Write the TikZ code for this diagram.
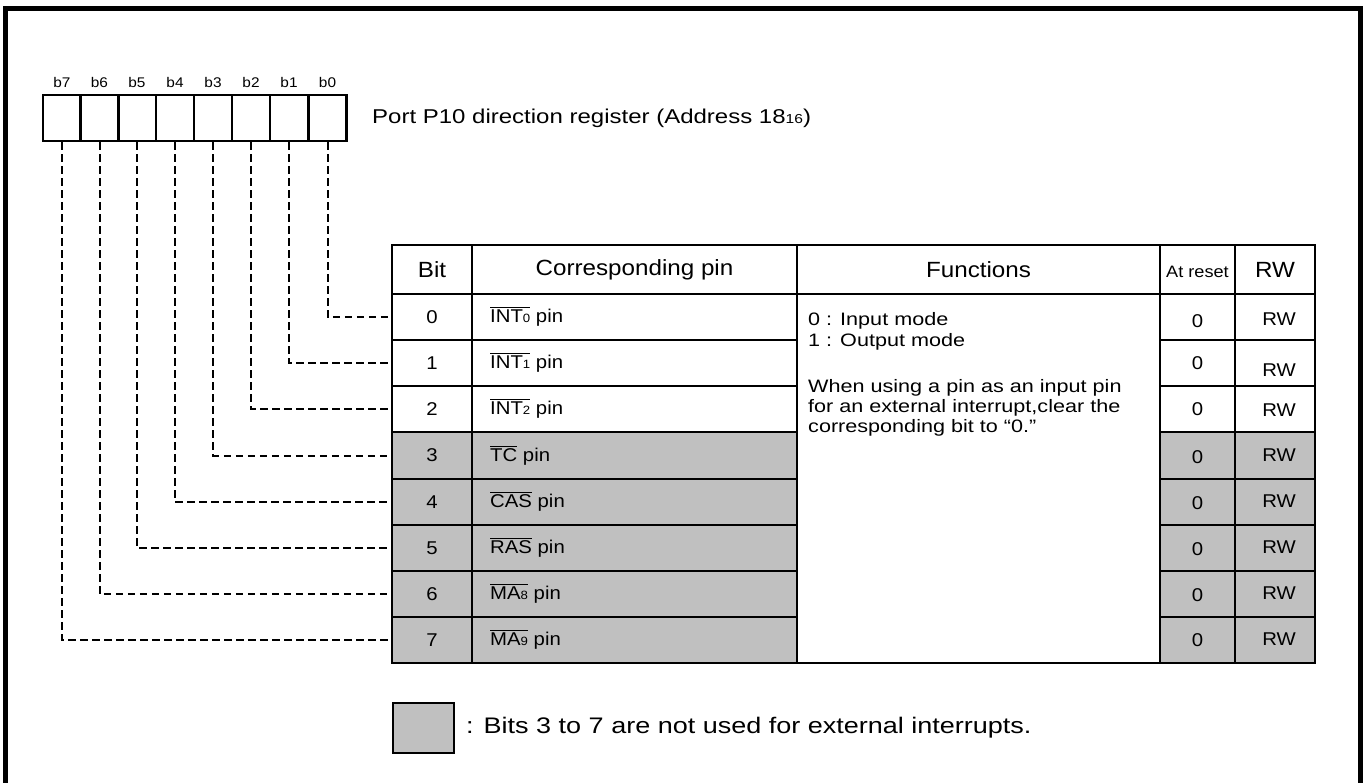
\documentclass[tikz,border=0pt]{standalone}
\usepackage{fontspec}
\setmainfont{Liberation Sans}[FakeStretch=1.1]
\newfontfamily\widefont{Liberation Sans}[FakeStretch=1.2]
\definecolor{regray}{HTML}{C0C0C0}
\newcommand\ovbar[1]{\leavevmode\vbox{\hrule height 1pt\kern1.6pt\hbox{#1}}}
\newcommand\smd[1]{{\fontsize{12}{12}\selectfont #1}}
\tikzset{
  regcell/.style={draw, line width=2.5pt, minimum width=38pt, minimum height=46pt, inner sep=0pt},
  blab/.style={font=\fontsize{14}{16}\selectfont, inner sep=0pt},
  conn/.style={line width=2pt, dash pattern=on 7.5pt off 4.5pt},
  tline/.style={line width=2pt},
  hd/.style={font=\fontsize{22}{25}\selectfont, inner sep=0pt},
  bd/.style={font=\fontsize{18.5}{22}\selectfont, inner sep=0pt},
  pinl/.style={bd, anchor=west},
  fn/.style={font=\widefont\fontsize{18}{20}\selectfont, inner sep=0pt, anchor=west},
}
\begin{document}
\begin{tikzpicture}[x=1pt,y=-1pt]
\useasboundingbox (0,0) rectangle (1367,782);
% outer frame (open at bottom, beyond page)
\draw[line width=5pt] (5,800) -- (5,8.5) -- (1360.5,8.5) -- (1360.5,800);
% register
\foreach \i/\x in {0/327.5,1/289,2/251,3/213,4/175,5/137,6/99.5,7/62} {
  \node[regcell] (c\i) at (\x,118) {};
  \node[blab] (bl\i) at (\x,82) {b\i};
}
\node[font=\widefont\fontsize{20}{23}\selectfont, anchor=west, inner sep=0pt] (title) at (372,118) {Port P10 direction register (Address 18{\fontsize{13}{13}\selectfont 16})};
% table fills
\fill[regray] (392,432) rectangle (797,663);
\fill[regray] (1160,432) rectangle (1315,663);
% table lines
\draw[tline] (392,245) rectangle (1315,663);
\draw[tline] (392,294) -- (1315,294);
\foreach \y in {340,386,432,479,525,571,617} {
  \draw[tline] (392,\y) -- (797,\y);
  \draw[tline] (1160,\y) -- (1315,\y);
}
\foreach \x in {472,797,1160,1235} { \draw[tline] (\x,245) -- (\x,663); }
% header
\node[hd] (hbit) at (432,270) {Bit};
\node[hd] (hpin) at (634.5,270) {Corresponding pin};
\node[hd] (hfun) at (978.5,270) {Functions};
\node[font=\fontsize{16.5}{19}\selectfont, inner sep=0pt] (hres) at (1197.5,272) {At reset};
\node[hd] (hrw) at (1275,270) {RW};
% rows
\foreach \i/\y/\p/\ry/\wy in {
  0/317/{\ovbar{INT\smd{0}}}/321/319,
  1/363/{\ovbar{INT\smd{1}}}/363/370,
  2/409/{\ovbar{INT\smd{2}}}/409/410,
  3/455.5/{\ovbar{TC}}/457/455,
  4/502/{\ovbar{CAS}}/503/501,
  5/548/{\ovbar{RAS}}/549/547,
  6/594/{\ovbar{MA\smd{8}}}/595/593,
  7/640/{\ovbar{MA\smd{9}}}/640/639} {
  \coordinate (t\i) at (392,\y);
  \node[bd] (n\i) at (432,\y) {\i};
  \node[pinl] (p\i) at (490,\y) {\p\ pin};
  \node[bd] (r\i) at (1197.5,\ry) {0};
  \node[bd] (w\i) at (1279,\wy) {RW};
  \draw[conn] (c\i.south) |- (t\i);
}
% functions text
\node[fn] (f1) at (808,321) {0 : Input mode};
\node[fn] (f2) at (808,342) {1 : Output mode};
\node[fn] (f3) at (808,388) {When using a pin as an input pin};
\node[fn] (f4) at (808,408) {for an external interrupt,clear the};
\node[fn] (f5) at (808,428) {corresponding bit to “0.”};
% legend
\node[draw, line width=2pt, fill=regray, minimum width=61pt, minimum height=50pt, inner sep=0pt] (leg) at (423.5,728) {};
\node[font=\widefont\fontsize{22.5}{26}\selectfont, anchor=west, inner sep=0pt] (legt) at (466,728) {: Bits 3 to 7 are not used for external interrupts.};
\end{tikzpicture}
\end{document}
